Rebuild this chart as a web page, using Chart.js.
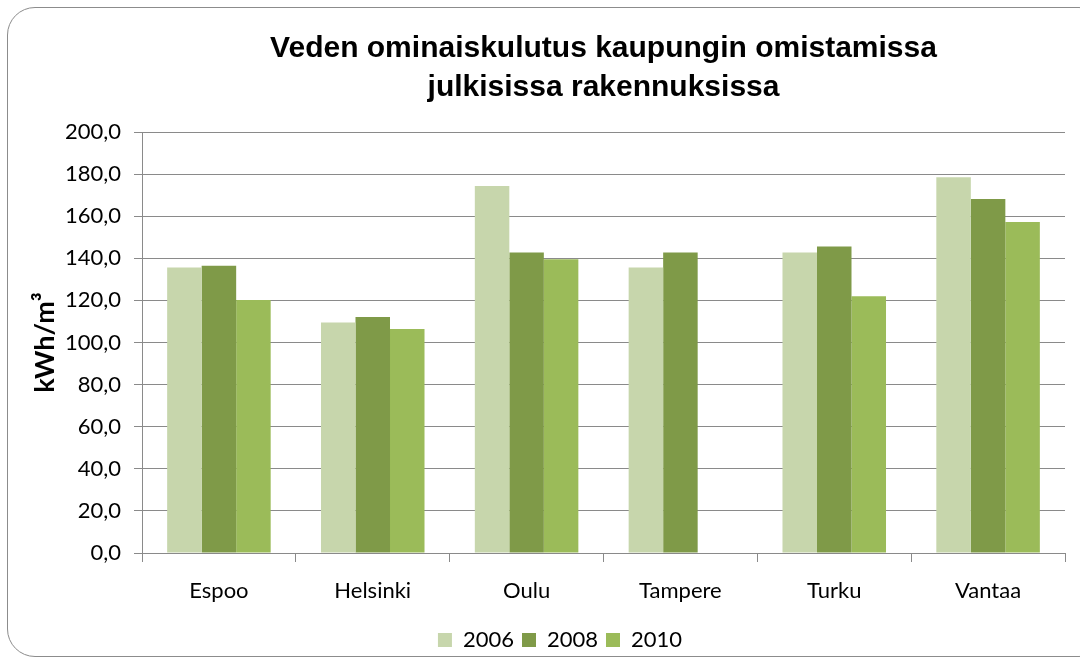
<!DOCTYPE html>
<html>
<head>
<meta charset="utf-8">
<script src="https://cdn.jsdelivr.net/npm/chart.js@4/dist/chart.umd.min.js"></script>
<style>
    html, body { margin: 0; padding: 0; background: #fff; }
    #wrap { position: relative; width: 1080px; height: 661px; overflow: hidden; }
    #frame {
        position: absolute; left: 7px; top: 7px; width: 1100px; height: 650px;
        border: 1.5px solid #8c8c8c; border-radius: 28px; box-sizing: border-box;
    }
    canvas { position: absolute; left: 0; top: 0; }
</style>
</head>
<body>
<div id="wrap">
    <div id="frame"></div>
    <canvas id="chart" width="1080" height="661"></canvas>
</div>
<script>
const cities = ['Espoo', 'Helsinki', 'Oulu', 'Tampere', 'Turku', 'Vantaa'];
const years = ['2006', '2008', '2010'];
const values2006 = [135.6, 109.5, 174.4, 135.6, 142.7, 178.5];
const values2008 = [136.5, 112.1, 142.7, 142.7, 145.6, 168.2];
const values2010 = [120.2, 106.4, 139.5, null, 122.0, 157.3];
const colors = ['#C7D6AC', '#7F9A48', '#9BBB59'];
const titleLines = ['Veden ominaiskulutus kaupungin omistamissa', 'julkisissa rakennuksissa'];

const gridGray = '#8a8a8a';
const plotBottom = 553;

const ctx = document.getElementById('chart').getContext('2d');
new Chart(ctx, {
    type: 'bar',
    data: {
        labels: cities,
        datasets: [values2006, values2008, values2010].map((data, i) => ({
            label: years[i],
            data: data,
            backgroundColor: colors[i],
            borderWidth: 0,
            categoryPercentage: 0.673,
            barPercentage: 1.0
        }))
    },
    options: {
        responsive: false,
        animation: false,
        layout: {
            // left padding shifts the legend centre towards the plot centre
            padding: { top: 10, left: 55, right: 15, bottom: 0 }
        },
        plugins: {
            title: {
                display: true,
                fullSize: false,
                text: titleLines,
                color: '#000',
                font: { family: 'Liberation Sans', size: 30, weight: 'bold', lineHeight: 1.3 },
                padding: { top: 19, bottom: 25 }
            },
            legend: {
                position: 'bottom',
                labels: {
                    boxWidth: 14,
                    boxHeight: 14,
                    padding: 8,
                    color: '#000',
                    font: { family: 'Lato', size: 22 }
                }
            },
            tooltip: { enabled: false }
        },
        scales: {
            x: {
                grid: {
                    offset: true,
                    drawOnChartArea: false,
                    drawTicks: true,
                    tickLength: 9,
                    color: gridGray
                },
                border: { display: true, color: gridGray },
                ticks: {
                    color: '#000',
                    padding: 16,
                    font: { family: 'Lato', size: 22 }
                },
                afterFit: (axis) => {
                    const chart = axis.chart;
                    axis.height = chart.height - plotBottom - chart.legend.height;
                }
            },
            y: {
                min: 0,
                max: 200,
                grid: {
                    color: gridGray,
                    tickLength: 8
                },
                border: { display: true, color: gridGray },
                ticks: {
                    stepSize: 20,
                    color: '#000',
                    padding: 13,
                    font: { family: 'Lato', size: 22 },
                    callback: (v) => v.toFixed(1).replace('.', ',')
                },
                title: {
                    display: true,
                    text: 'kWh/m³',
                    color: '#000',
                    font: { family: 'Lato', size: 27, weight: 'bold' },
                    padding: { top: -26, bottom: 0 }
                },
                afterFit: (axis) => {
                    axis.width = 87;
                }
            }
        }
    }
});
</script>
</body>
</html>
